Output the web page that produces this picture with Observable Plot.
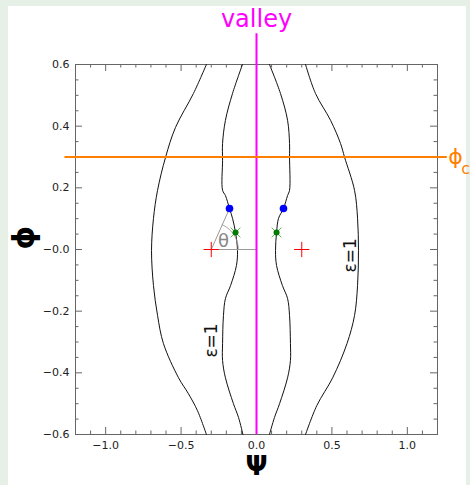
<!DOCTYPE html>
<html><head><meta charset="utf-8">
<script src="https://cdn.jsdelivr.net/npm/d3@7"></script>
<script src="https://cdn.jsdelivr.net/npm/@observablehq/plot@0.6"></script>
<style>
html,body{margin:0;padding:0;background:#e6f0e6;width:470px;height:485px;overflow:hidden;}
#panel{position:absolute;left:8px;top:6px;width:458px;height:479px;background:#fff;}
#chart{position:absolute;left:0;top:0;}
</style></head><body><div id="panel"></div><div id="chart"></div>
<script>
// ---- axis ticks and labels ----
const xDomain = [-1.2, 1.2];
const yDomain = [-0.6, 0.6];
const xMajorTicks = [-1.0, -0.5, 0.0, 0.5, 1.0];
const xTickLabels = ["\u22121.0", "\u22120.5", "0.0", "0.5", "1.0"];
const xMinorTicks = [-1.1, -0.9, -0.8, -0.7, -0.6, -0.4, -0.3, -0.2, -0.1, 0.1, 0.2, 0.3, 0.4, 0.6, 0.7, 0.8, 0.9, 1.1];
const yMajorTicks = [-0.6, -0.4, -0.2, 0.0, 0.2, 0.4, 0.6];
const yTickLabels = ["\u22120.6", "\u22120.4", "\u22120.2", "\u22120.0", "0.2", "0.4", "0.6"];
const yMinorTicks = [-0.55, -0.5, -0.45, -0.35, -0.3, -0.25, -0.15, -0.1, -0.05, 0.05, 0.1, 0.15, 0.25, 0.3, 0.35, 0.45, 0.5, 0.55];

// ---- epsilon = 1 contours (phi, psi) ----
const innerLeftPhi = [0.600, 0.506, 0.419, 0.344, 0.289, 0.192, 0.175, 0.133, 0.101, 0.055, -0.003, -0.052, -0.117, -0.159, -0.214, -0.305, -0.360, -0.416, -0.500, -0.545, -0.600];
const innerLeftPsi = [-0.093, -0.159, -0.206, -0.225, -0.225, -0.225, -0.206, -0.179, -0.159, -0.139, -0.126, -0.133, -0.172, -0.206, -0.219, -0.225, -0.225, -0.206, -0.153, -0.119, -0.090];
const innerRightPhi = [0.600, 0.506, 0.419, 0.344, 0.299, 0.192, 0.175, 0.133, 0.101, 0.055, -0.003, -0.052, -0.117, -0.159, -0.214, -0.305, -0.360, -0.416, -0.500, -0.545, -0.600];
const innerRightPsi = [0.086, 0.159, 0.206, 0.219, 0.219, 0.219, 0.206, 0.179, 0.146, 0.133, 0.126, 0.133, 0.172, 0.206, 0.219, 0.225, 0.225, 0.206, 0.153, 0.119, 0.086];
const outerLeftPhi = [0.600, 0.506, 0.396, 0.299, 0.192, 0.101, -0.003, -0.117, -0.214, -0.305, -0.416, -0.468, -0.523, -0.600];
const outerLeftPsi = [-0.332, -0.418, -0.537, -0.603, -0.656, -0.683, -0.696, -0.683, -0.656, -0.617, -0.517, -0.451, -0.391, -0.332];
const outerRightPhi = [0.600, 0.506, 0.419, 0.344, 0.299, 0.192, 0.101, -0.003, -0.117, -0.214, -0.305, -0.416, -0.506, -0.600];
const outerRightPsi = [0.325, 0.391, 0.491, 0.557, 0.584, 0.650, 0.670, 0.676, 0.670, 0.650, 0.600, 0.505, 0.400, 0.325];

// ---- points ----
const minimaPsi = [-0.30, 0.30];   // red crosses
const minimaPhi = [0.0, 0.0];
const bluePsi = [-0.179, 0.179];
const bluePhi = [0.133, 0.133];
const greenPsi = [-0.139, 0.133];
const greenPhi = [0.055, 0.055];

// ---- reference lines ----
const valleyPsi = [0.0];
const valleyPhiTop = 0.70;
const phiC = [0.3];
const phiCExtent = [-1.27, 1.265];

// ---- labels ----
const valleyLabel = ["valley"];
const epsLabels = ["\u03b5=1", "\u03b5=1"];
const epsLabelPsi = [-0.298, 0.623];
const epsLabelPhi = [-0.295, -0.019];

const W = 470, H = 485, mL = 75, mR = 33, mT = 64, mB = 51;
const FW = W - mL - mR, FH = H - mT - mB;
const kx = FW / (xDomain[1] - xDomain[0]);
const ky = FH / (yDomain[1] - yDomain[0]);

const toPts = (ps, ph) => ps.map((p, i) => ({psi: p, phi: ph[i]}));
const curves = [
  ...toPts(innerLeftPsi, innerLeftPhi).map(d => ({...d, c: "il"})),
  ...toPts(innerRightPsi, innerRightPhi).map(d => ({...d, c: "ir"})),
  ...toPts(outerLeftPsi, outerLeftPhi).map(d => ({...d, c: "ol"})),
  ...toPts(outerRightPsi, outerRightPhi).map(d => ({...d, c: "or"}))
];

// theta construction (left minimum to left blue point)
const c0 = {psi: minimaPsi[0], phi: minimaPhi[0]};
const b0 = {psi: bluePsi[0], phi: bluePhi[0]};
const thetaAng = Math.atan2((b0.phi - c0.phi) * ky, (b0.psi - c0.psi) * kx);
const R = 27;
const arc = d3.range(0, 41).map(i => {
  const t = thetaAng * i / 40;
  return {psi: c0.psi + R * Math.cos(t) / kx, phi: c0.phi + R * Math.sin(t) / ky};
});

const grey = "#666";
const plot = Plot.plot({
  width: W, height: H,
  marginLeft: mL, marginRight: mR, marginTop: mT, marginBottom: mB,
  x: {domain: xDomain, axis: null},
  y: {domain: yDomain, axis: null},
  style: {background: "transparent", fontFamily: "DejaVu Sans", overflow: "visible"},
  marks: [
    // ticks
    Plot.tickX(xMajorTicks, {insetTop: FH - 7, stroke: grey}),
    Plot.tickX(xMinorTicks, {insetTop: FH - 3.5, stroke: grey}),
    Plot.tickX(xMajorTicks, {insetBottom: FH - 7, stroke: grey}),
    Plot.tickX(xMinorTicks, {insetBottom: FH - 3.5, stroke: grey}),
    Plot.tickY(yMajorTicks, {insetRight: FW - 7, stroke: grey}),
    Plot.tickY(yMinorTicks, {insetRight: FW - 3.5, stroke: grey}),
    Plot.tickY(yMajorTicks, {insetLeft: FW - 7, stroke: grey}),
    Plot.tickY(yMinorTicks, {insetLeft: FW - 3.5, stroke: grey}),
    Plot.frame({stroke: grey}),
    // tick labels
    Plot.text(xMajorTicks, {x: d => d, text: (d, i) => xTickLabels[i], frameAnchor: "bottom", dy: 14, fontSize: 11, fill: "#222"}),
    Plot.text(yMajorTicks, {y: d => d, text: (d, i) => yTickLabels[i], frameAnchor: "left", textAnchor: "end", dx: -6, fontSize: 11, fill: "#222"}),
    // axis titles
    Plot.text(["\u03d5"], {frameAnchor: "left", dx: -51, rotate: -90, fontSize: 30, fontWeight: "bold", fill: "#000"}),
    Plot.text(["\u03a8"], {frameAnchor: "bottom", dy: 40, fontSize: 26, fontWeight: "bold", fill: "#000"}),
    // contours
    Plot.line(curves, {x: "psi", y: "phi", z: "c", stroke: "#111", strokeWidth: 1, curve: "catmull-rom"}),
    // theta construction
    Plot.link([0], {x1: c0.psi, y1: c0.phi, x2: b0.psi, y2: b0.phi, stroke: "#999", strokeWidth: 1}),
    Plot.link([0], {x1: c0.psi, y1: c0.phi, x2: valleyPsi[0], y2: c0.phi, stroke: "#999", strokeWidth: 1}),
    Plot.line(arc, {x: "psi", y: "phi", stroke: "#999", strokeWidth: 1}),
    Plot.text(["\u03b8"], {x: -0.219, y: 0.026, fontSize: 18, fill: "#888"}),
    // valley & phi_c
    Plot.ruleX(valleyPsi, {y1: yDomain[0], y2: valleyPhiTop, stroke: "#ff00ff", strokeWidth: 2}),
    Plot.text(valleyLabel, {x: valleyPsi[0], y: 0.746, fontSize: 24, fill: "#ff00ff"}),
    Plot.ruleY(phiC, {x1: phiCExtent[0], x2: phiCExtent[1], stroke: "#ff8000", strokeWidth: 2}),
    Plot.text(["\u03d5"], {x: 1.319, y: phiC[0], fontSize: 22, fill: "#ff8000"}),
    Plot.text(["c"], {x: 1.386, y: 0.263, fontSize: 16, fill: "#ff8000"}),
    // epsilon labels
    Plot.text(epsLabels, {x: (d, i) => epsLabelPsi[i], y: (d, i) => epsLabelPhi[i], rotate: -90, fontSize: 17, fill: "#111"}),
    // points
    Plot.dot(minimaPsi, {x: d => d, y: (d, i) => minimaPhi[i], symbol: "plus", r: 5, stroke: "#ff0000", strokeWidth: 1}),
    Plot.dot(greenPsi, {x: d => d, y: (d, i) => greenPhi[i], symbol: "times", r: 4.5, stroke: "#55bb55", strokeWidth: 1}),
    Plot.dot(greenPsi, {x: d => d, y: (d, i) => greenPhi[i], r: 3, fill: "#007a00", stroke: null}),
    Plot.dot(bluePsi, {x: d => d, y: (d, i) => bluePhi[i], r: 3.8, fill: "#0000ff", stroke: null})
  ]
});
document.getElementById("chart").appendChild(plot);
</script></body></html>
